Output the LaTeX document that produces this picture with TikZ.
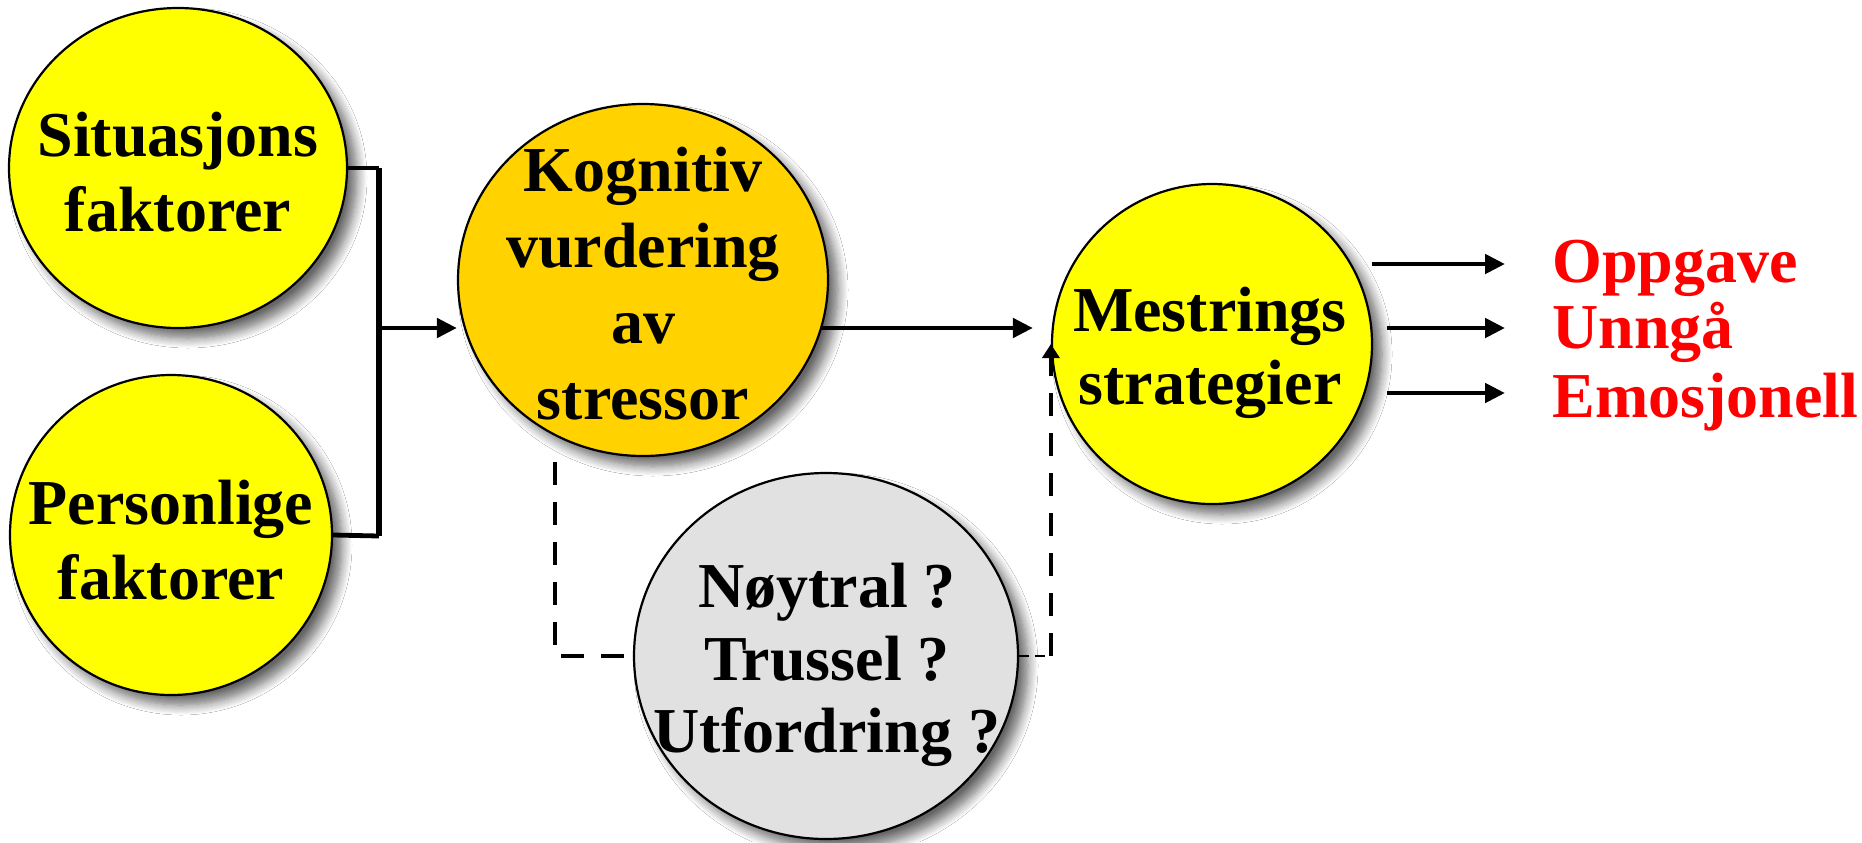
\documentclass[tikz,border=0pt]{standalone}
\usepackage{fontspec}
\setmainfont{Liberation Serif}
\usetikzlibrary{arrows.meta,shapes.geometric,shadows.blur}
\definecolor{yel}{HTML}{FFFF00}
\definecolor{gold}{HTML}{FFD200}
\definecolor{lgrey}{HTML}{E1E1E1}
\definecolor{rd}{HTML}{FF0000}
\begin{document}
\begin{tikzpicture}[x=0.5pt,y=-0.5pt,
  circ/.style={ellipse, draw=black, line width=1.1pt, inner sep=0pt,
    blur shadow={shadow xshift=5pt, shadow yshift=-5pt, shadow blur radius=5pt, shadow blur steps=10, shadow opacity=60}},
  lbl/.style={align=center, inner sep=0pt},
  conn/.style={line width=2.4pt},
  arr/.style={line width=2.4pt, -{Triangle[length=10pt,width=9.5pt]}},
  dashline/.style={line width=2.4pt, dash pattern=on 11.5pt off 8.5pt},
  redtxt/.style={anchor=base west, inner sep=0pt, text=rd, font=\fontsize{32}{37}\selectfont\bfseries}
]
\useasboundingbox (0,0) rectangle (1862,842);
\fill[white] (0,0) rectangle (1862,842);

% circles
\node[circ, fill=yel, minimum width=169pt, minimum height=160pt] (s) at (178,168) {};
\node[circ, fill=yel, minimum width=161pt, minimum height=160pt] (p) at (171,535) {};
\node[circ, fill=gold, minimum width=185pt, minimum height=176pt] (k) at (643,280) {};
\node[circ, fill=yel, minimum width=160pt, minimum height=160pt] (m) at (1212,344) {};
\node[circ, fill=lgrey, minimum width=192pt, minimum height=183pt] (g) at (826,656) {};

% labels
\node[lbl, font=\fontsize{32}{37.5}\selectfont\bfseries] (st) at (178,172) {Situasjons\\faktorer};
\node[lbl, font=\fontsize{32}{37.5}\selectfont\bfseries] (pt) at (171,540) {Personlige\\faktorer};
\node[lbl, font=\fontsize{32}{38}\selectfont\bfseries] (kt) at (643,284) {Kognitiv\\vurdering\\av\\stressor};
\node[lbl, font=\fontsize{32}{36.5}\selectfont\bfseries] (mt) at (1210,353) {Mestrings\\strategier};
\node[lbl, font=\fontsize{32}{36.25}\selectfont\bfseries] (gt) at (827,665) {Nøytral ?\\Trussel ?\\Utfordring ?};

\node[redtxt] (o) at (1552,282) {Oppgave};
\node[redtxt] (u) at (1552,348) {Unngå};
\node[redtxt] (e) at (1552,417) {Emosjonell};

% bracket
\coordinate (bt) at (379,168);
\coordinate (bb) at (379,536);
\coordinate (bm) at (379,328);
\draw[conn] (s.east) -- (bt);
\draw[conn] (p.east) -- (bb);
\draw[line width=3pt] (bt) -- (bb);
\draw[arr] (bm) -- (bm -| k.west);

% k -> m
\draw[arr, shorten >=9pt] (k.-15) -- (k.-15 -| m.west);

% dashed appraisal path
\coordinate (kd) at (555,462);
\draw[dashline] (kd) |- (g.west);
\draw[line width=1pt, dash pattern=on 5pt off 3pt] (g.east) -- (g.east -| m.west);
\draw[dashline, -{Triangle[length=7pt,width=8.5pt]}] (g.east -| m.west) -- (m.west);

% outputs
\coordinate (a1) at (1372,264);
\coordinate (a2) at (1387,328);
\coordinate (a3) at (1387,393);
\draw[arr, shorten >=23.5pt] (a1) -- (a1 -| o.west);
\draw[arr, shorten >=23.5pt] (a2) -- (a2 -| u.west);
\draw[arr, shorten >=23.5pt] (a3) -- (a3 -| e.west);
\end{tikzpicture}
\end{document}
